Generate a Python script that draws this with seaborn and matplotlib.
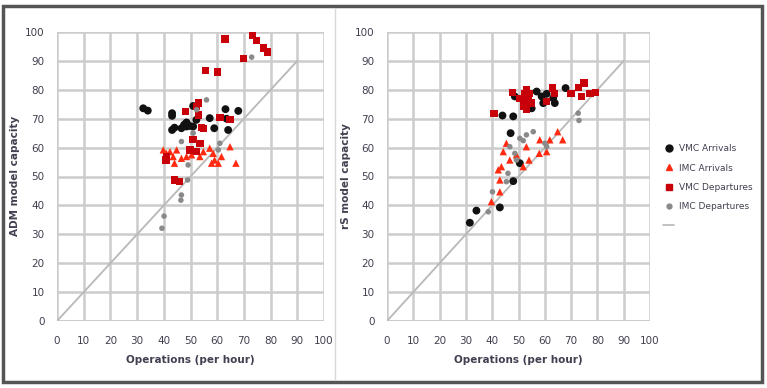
import numpy as np
import pandas as pd
import seaborn as sns
import matplotlib.pyplot as plt
from matplotlib.lines import Line2D
from matplotlib.patches import Rectangle

# Series labels
series_names = ["VMC Arrivals", "IMC Arrivals", "VMC Departures", "IMC Departures"]

# Left panel (ADM model)
adm_vmc_arr_x = [32.3, 34.0, 43.1, 43.1, 43.1, 44.0, 47.6, 48.5, 49.7, 51.0, 52.2, 51.0, 57.2, 58.9, 63.1, 64.1, 67.9, 63.5, 48.5, 46.6]
adm_vmc_arr_y = [73.6, 72.8, 71.9, 71.0, 66.1, 66.9, 67.9, 67.3, 67.5, 67.3, 69.6, 74.4, 70.2, 66.7, 73.3, 66.1, 72.7, 70.0, 68.7, 66.7]
adm_imc_arr_x = [39.8, 41.0, 42.3, 43.5, 44.8, 46.6, 48.5, 50.4, 53.5, 54.8, 57.2, 58.5, 57.9, 60.4, 61.6, 64.8, 67.0, 59.0, 44.0]
adm_imc_arr_y = [59.2, 58.0, 58.6, 56.9, 59.2, 56.3, 56.9, 57.5, 56.9, 58.6, 59.8, 58.0, 54.6, 54.6, 56.9, 60.3, 54.6, 55.7, 54.6]
adm_vmc_dep_x = [62.9, 73.1, 74.8, 77.3, 78.9, 69.8, 55.6, 60.0, 53.0, 52.3, 48.1, 52.9, 54.1, 54.8, 61.0, 64.8, 51.0, 53.5, 49.8, 40.8, 41.0, 44.1, 46.0, 52.3]
adm_vmc_dep_y = [97.6, 98.7, 97.1, 94.5, 93.1, 90.9, 86.7, 86.1, 75.4, 74.2, 72.5, 71.3, 66.9, 66.7, 70.5, 69.8, 62.7, 61.5, 59.2, 55.7, 56.9, 48.8, 48.2, 58.6]
adm_imc_dep_x = [39.3, 40.1, 46.4, 46.6, 48.9, 49.1, 46.6, 56.0, 51.0, 61.0, 60.4, 72.9, 52.3]
adm_imc_dep_y = [32.1, 36.3, 41.8, 43.6, 48.8, 54.0, 62.1, 76.5, 65.0, 61.5, 59.2, 91.3, 73.1]

# Right panel (rS model)
rs_vmc_arr_x = [31.5, 34.0, 42.9, 43.9, 48.0, 47.0, 50.5, 48.0, 48.6, 56.9, 58.8, 59.4, 63.2, 63.8, 67.9, 55.0, 60.7, 53.0]
rs_vmc_arr_y = [34.0, 38.2, 39.3, 71.1, 70.8, 65.0, 54.6, 48.4, 77.7, 79.4, 77.7, 75.4, 77.1, 75.4, 80.6, 73.6, 78.6, 78.6]
rs_imc_arr_x = [39.7, 42.9, 42.9, 42.3, 43.5, 44.2, 45.4, 46.7, 49.2, 51.8, 54.0, 57.9, 58.1, 60.7, 61.9, 64.9, 66.8, 53.0]
rs_imc_arr_y = [41.3, 44.7, 48.8, 52.3, 53.4, 58.6, 61.5, 55.7, 57.5, 53.4, 55.7, 58.0, 62.7, 58.6, 62.7, 65.5, 62.7, 60.3]
rs_vmc_dep_x = [40.7, 47.6, 50.5, 51.8, 52.4, 53.0, 53.7, 54.3, 52.4, 51.8, 55.0, 60.7, 62.9, 63.8, 69.9, 72.7, 74.9, 74.0, 77.2, 79.4, 53.0]
rs_vmc_dep_y = [71.7, 79.1, 77.1, 76.5, 74.8, 73.1, 76.5, 78.8, 78.8, 74.2, 75.4, 76.0, 80.6, 78.8, 78.8, 80.9, 82.3, 77.7, 78.8, 79.1, 80.0]
rs_imc_dep_x = [38.5, 40.1, 45.4, 46.0, 46.7, 48.6, 49.2, 50.5, 51.8, 53.0, 55.6, 60.0, 60.7, 72.7, 73.0]
rs_imc_dep_y = [37.8, 44.7, 48.2, 51.1, 60.3, 58.0, 55.7, 63.2, 62.4, 64.4, 65.5, 61.5, 60.3, 71.9, 69.4]

ticks = [0, 10, 20, 30, 40, 50, 60, 70, 80, 90, 100]
diag = [0, 90]


def make_df(groups):
    rows = []
    for name, (xs, ys) in zip(series_names, groups):
        for x, y in zip(xs, ys):
            rows.append({"series": name, "ops": x, "cap": y})
    return pd.DataFrame(rows)


df_adm = make_df([(adm_vmc_arr_x, adm_vmc_arr_y), (adm_imc_arr_x, adm_imc_arr_y),
                  (adm_vmc_dep_x, adm_vmc_dep_y), (adm_imc_dep_x, adm_imc_dep_y)])
df_rs = make_df([(rs_vmc_arr_x, rs_vmc_arr_y), (rs_imc_arr_x, rs_imc_arr_y),
                 (rs_vmc_dep_x, rs_vmc_dep_y), (rs_imc_dep_x, rs_imc_dep_y)])

palette = {"VMC Arrivals": "#111111", "IMC Arrivals": "#ff2a10",
           "VMC Departures": "#c8000a", "IMC Departures": "#8a8a8a"}
markers = {"VMC Arrivals": "o", "IMC Arrivals": "^",
           "VMC Departures": "s", "IMC Departures": "o"}
sizes = {"VMC Arrivals": 32, "IMC Arrivals": 28,
         "VMC Departures": 28, "IMC Departures": 16}

sns.set_style("white")
fig = plt.figure(figsize=(7.67, 3.88), dpi=100)
ax1 = fig.add_axes([57 / 767, 1 - 321 / 388, 267 / 767, 289 / 388])
ax2 = fig.add_axes([387 / 767, 1 - 321 / 388, 263 / 767, 289 / 388])

text_col = "#404050"
for ax, df, ylab, lx in [(ax1, df_adm, "ADM model capacity", 15 / 767),
                         (ax2, df_rs, "rS model capacity", 346 / 767)]:
    ax.plot(diag, diag, color="#b8b8b8", lw=1.3, zorder=1)
    for name in series_names:
        sub = df[df["series"] == name]
        sns.scatterplot(data=sub, x="ops", y="cap", ax=ax, color=palette[name],
                        marker=markers[name], s=sizes[name], edgecolor="none",
                        legend=False, zorder=3)
    ax.set_xlim(0, 100)
    ax.set_ylim(0, 100)
    ax.set_xticks(ticks)
    ax.set_yticks(ticks)
    ax.grid(True, color="#cccccc", lw=1.8)
    ax.set_axisbelow(True)
    for sp in ax.spines.values():
        sp.set_visible(False)
    ax.axhline(0, color="#bbbbbb", lw=1.8, zorder=0)
    ax.tick_params(axis="both", labelsize=7.5, colors=text_col, length=0, pad=9)
    ax.tick_params(axis="x", pad=11)
    ax.set_xlabel("Operations (per hour)", fontsize=7.5, color=text_col, fontweight="bold", labelpad=6)
    ax.set_ylabel("")
    fig.text(lx, 1 - 176 / 388, ylab, rotation=90, fontsize=7.5, color=text_col,
             fontweight="bold", ha="center", va="center")

# legend for right panel
handles = [Line2D([], [], ls="none", marker=markers[n], color=palette[n],
                  markersize=5 if n != "IMC Departures" else 3.5) for n in series_names]
handles.append(Line2D([], [], color="#b8b8b8", lw=1.2))
leg = fig.legend(handles, series_names + [""], loc="upper left",
                 bbox_to_anchor=(655 / 767, 1 - 136 / 388), frameon=False,
                 fontsize=6.5, handlelength=1.2, labelspacing=1.15, handletextpad=0.6,
                 labelcolor=text_col)

# panel frames
fig.patches.append(Rectangle((3 / 767, 6 / 388), 759 / 767, 376 / 388, transform=fig.transFigure,
                             fill=False, edgecolor="#555555", lw=2.5))
fig.lines.append(Line2D([335 / 767, 335 / 767], [8 / 388, 380 / 388], transform=fig.transFigure,
                        color="#d8d8d8", lw=1))

plt.savefig("out.png", dpi=100)
